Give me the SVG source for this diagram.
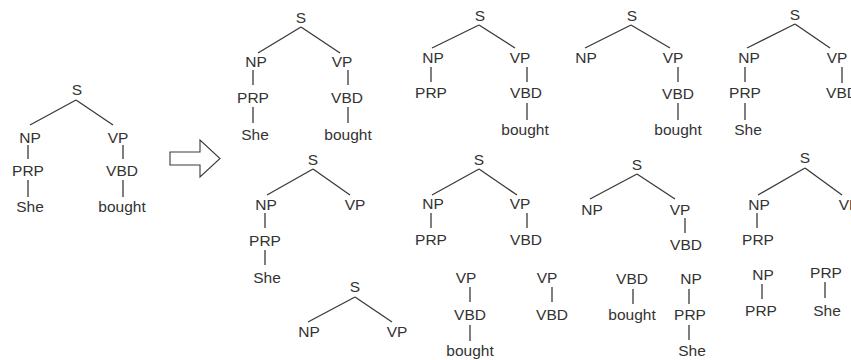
<svg xmlns="http://www.w3.org/2000/svg" width="851" height="360" viewBox="0 0 851 360">
<style>
text{font-family:"Liberation Sans",Arial,sans-serif;font-size:15.5px;fill:#333;text-anchor:middle}
.c line{stroke:#3a3a3a;stroke-width:1.3;fill:none}
.arrow{fill:#fff;stroke:#3a3a3a;stroke-width:1.1}
</style>
<rect width="851" height="360" fill="#fff"/>
<g id="connectors" class="c">
<!-- tree 0 -->
<line x1="76" y1="100" x2="30" y2="125"/><line x1="76" y1="100" x2="113" y2="125"/>
<line x1="28" y1="145" x2="28" y2="159"/><line x1="28" y1="180" x2="28" y2="197"/>
<line x1="123" y1="145" x2="123" y2="159"/><line x1="123" y1="180" x2="123" y2="197"/>
<!-- tree 1 -->
<line x1="301" y1="27" x2="258" y2="53"/><line x1="301" y1="27" x2="340" y2="53"/>
<line x1="253" y1="70" x2="253" y2="85"/><line x1="253" y1="107" x2="253" y2="123"/>
<line x1="348" y1="70" x2="348" y2="85"/><line x1="348" y1="107" x2="348" y2="123"/>
<!-- tree 2 -->
<line x1="479" y1="25" x2="432" y2="48"/><line x1="479" y1="25" x2="515" y2="48"/>
<line x1="431" y1="67" x2="431" y2="82"/>
<line x1="527" y1="67" x2="527" y2="82"/><line x1="527" y1="103" x2="527" y2="120"/>
<!-- tree 3 -->
<line x1="631" y1="25" x2="585" y2="48"/><line x1="631" y1="25" x2="670" y2="48"/>
<line x1="678" y1="67" x2="678" y2="82"/><line x1="678" y1="103" x2="678" y2="120"/>
<!-- tree 4 -->
<line x1="795" y1="24" x2="747" y2="48"/><line x1="795" y1="24" x2="830" y2="48"/>
<line x1="745" y1="67" x2="745" y2="82"/><line x1="745" y1="103" x2="745" y2="120"/>
<line x1="842" y1="67" x2="842" y2="83"/>
<!-- tree 5 -->
<line x1="313" y1="169" x2="267" y2="195"/><line x1="313" y1="169" x2="350" y2="195"/>
<line x1="265" y1="213" x2="265" y2="228"/><line x1="265" y1="250" x2="265" y2="265"/>
<!-- tree 6 -->
<line x1="479" y1="169" x2="432" y2="195"/><line x1="479" y1="169" x2="517" y2="195"/>
<line x1="431" y1="213" x2="431" y2="228"/><line x1="527" y1="213" x2="527" y2="228"/>
<!-- tree 7 -->
<line x1="637" y1="174" x2="590" y2="199"/><line x1="637" y1="174" x2="675" y2="199"/>
<line x1="685" y1="218" x2="685" y2="233"/>
<!-- tree 8 -->
<line x1="805" y1="168" x2="758" y2="195"/><line x1="805" y1="168" x2="842" y2="195"/>
<line x1="757" y1="213" x2="757" y2="228"/>
<!-- tree 9 -->
<line x1="355" y1="297" x2="308" y2="322"/><line x1="355" y1="297" x2="392" y2="322"/>
<!-- small trees -->
<line x1="470" y1="287" x2="470" y2="302"/><line x1="470" y1="325" x2="470" y2="341"/>
<line x1="552" y1="287" x2="552" y2="302"/>
<line x1="633" y1="289" x2="633" y2="304"/>
<line x1="689" y1="289" x2="689" y2="304"/><line x1="689" y1="325" x2="689" y2="340"/>
<line x1="762" y1="284" x2="762" y2="299"/>
<line x1="825" y1="282" x2="825" y2="298"/>
</g>
<g id="arrow"><polygon class="arrow" points="170,152 200,152 200,140 220,158.5 200,177 200,165 170,165"/></g>
<g id="tree0">
<g id="t0-S"><text x="77" y="95">S</text></g>
<g id="t0-NP"><text x="30" y="143">NP</text></g>
<g id="t0-VP"><text x="118" y="143">VP</text></g>
<g id="t0-PRP"><text x="28" y="176">PRP</text></g>
<g id="t0-VBD"><text x="122" y="176">VBD</text></g>
<g id="t0-She"><text x="30" y="212">She</text></g>
<g id="t0-bought"><text x="122" y="212">bought</text></g>
</g>
<g id="tree1">
<g id="t1-S"><text x="301" y="23">S</text></g>
<g id="t1-NP"><text x="256" y="67">NP</text></g>
<g id="t1-VP"><text x="342" y="67">VP</text></g>
<g id="t1-PRP"><text x="253" y="103">PRP</text></g>
<g id="t1-VBD"><text x="347" y="103">VBD</text></g>
<g id="t1-She"><text x="255" y="140">She</text></g>
<g id="t1-bought"><text x="348" y="140">bought</text></g>
</g>
<g id="tree2">
<g id="t2-S"><text x="480" y="21">S</text></g>
<g id="t2-NP"><text x="433" y="63">NP</text></g>
<g id="t2-VP"><text x="520" y="63">VP</text></g>
<g id="t2-PRP"><text x="431" y="98">PRP</text></g>
<g id="t2-VBD"><text x="526" y="98">VBD</text></g>
<g id="t2-bought"><text x="525" y="135">bought</text></g>
</g>
<g id="tree3">
<g id="t3-S"><text x="632" y="21">S</text></g>
<g id="t3-NP"><text x="586" y="63">NP</text></g>
<g id="t3-VP"><text x="673" y="63">VP</text></g>
<g id="t3-VBD"><text x="678" y="99">VBD</text></g>
<g id="t3-bought"><text x="678" y="135">bought</text></g>
</g>
<g id="tree4">
<g id="t4-S"><text x="795" y="20">S</text></g>
<g id="t4-NP"><text x="749" y="63">NP</text></g>
<g id="t4-VP"><text x="837" y="63">VP</text></g>
<g id="t4-PRP"><text x="745" y="98">PRP</text></g>
<g id="t4-VBD"><text x="842" y="98">VBD</text></g>
<g id="t4-She"><text x="748" y="135">She</text></g>
</g>
<g id="tree5">
<g id="t5-S"><text x="313" y="165">S</text></g>
<g id="t5-NP"><text x="266" y="210">NP</text></g>
<g id="t5-VP"><text x="355" y="210">VP</text></g>
<g id="t5-PRP"><text x="265" y="246">PRP</text></g>
<g id="t5-She"><text x="267" y="283">She</text></g>
</g>
<g id="tree6">
<g id="t6-S"><text x="479" y="165">S</text></g>
<g id="t6-NP"><text x="433" y="209">NP</text></g>
<g id="t6-VP"><text x="520" y="209">VP</text></g>
<g id="t6-PRP"><text x="431" y="245">PRP</text></g>
<g id="t6-VBD"><text x="526" y="245">VBD</text></g>
</g>
<g id="tree7">
<g id="t7-S"><text x="637" y="170">S</text></g>
<g id="t7-NP"><text x="592" y="215">NP</text></g>
<g id="t7-VP"><text x="680" y="215">VP</text></g>
<g id="t7-VBD"><text x="686" y="250">VBD</text></g>
</g>
<g id="tree8">
<g id="t8-S"><text x="805" y="163">S</text></g>
<g id="t8-NP"><text x="759" y="210">NP</text></g>
<g id="t8-VP"><text x="849" y="210">VP</text></g>
<g id="t8-PRP"><text x="758" y="245">PRP</text></g>
</g>
<g id="tree9">
<g id="t9-S"><text x="355" y="292">S</text></g>
<g id="t9-NP"><text x="309" y="337">NP</text></g>
<g id="t9-VP"><text x="397" y="337">VP</text></g>
</g>
<g id="tree10">
<g id="t10-VP"><text x="466" y="283">VP</text></g>
<g id="t10-VBD"><text x="470" y="320">VBD</text></g>
<g id="t10-bought"><text x="470" y="356">bought</text></g>
</g>
<g id="tree11">
<g id="t11-VP"><text x="547" y="283">VP</text></g>
<g id="t11-VBD"><text x="552" y="320">VBD</text></g>
</g>
<g id="tree12">
<g id="t12-VBD"><text x="632" y="284">VBD</text></g>
<g id="t12-bought"><text x="632" y="320">bought</text></g>
</g>
<g id="tree13">
<g id="t13-NP"><text x="691" y="284">NP</text></g>
<g id="t13-PRP"><text x="690" y="320">PRP</text></g>
<g id="t13-She"><text x="692" y="356">She</text></g>
</g>
<g id="tree14">
<g id="t14-NP"><text x="763" y="280">NP</text></g>
<g id="t14-PRP"><text x="761" y="316">PRP</text></g>
</g>
<g id="tree15">
<g id="t15-PRP"><text x="826" y="278">PRP</text></g>
<g id="t15-She"><text x="827" y="316">She</text></g>
</g>
</svg>
